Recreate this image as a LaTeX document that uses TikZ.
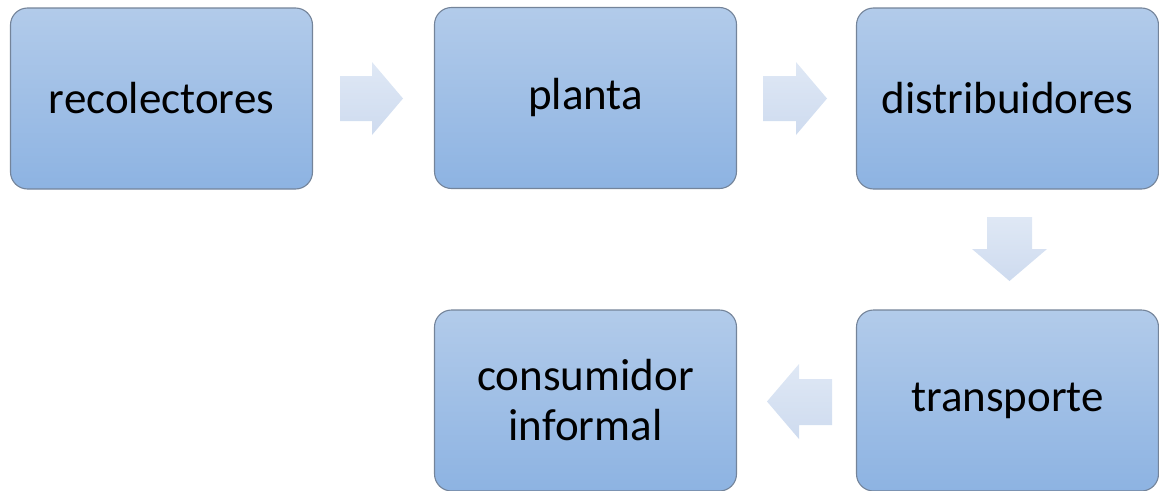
\documentclass[tikz,border=0pt]{standalone}
\usepackage{fontspec}
\setmainfont{Carlito}
\begin{document}
\begin{tikzpicture}[x=1pt,y=-1pt,
  box/.style={draw=boxline, line width=1.1pt, rounded corners=17pt,
    top color=boxtop, bottom color=boxbot, shading angle=0,
    minimum width=302pt, minimum height=181pt, inner sep=0pt,
    font=\fontsize{45}{50}\selectfont, align=center, text=black},
  blockarrow/.style={top color=arrtop, bottom color=arrbot, draw=none}]
\definecolor{boxtop}{HTML}{B2CBEA}
\definecolor{boxbot}{HTML}{8DB3E2}
\definecolor{boxline}{HTML}{74849A}
\definecolor{arrtop}{HTML}{DFE8F5}
\definecolor{arrbot}{HTML}{CEDBEF}
\useasboundingbox (0,0) rectangle (1159,490);
\node[box] (rec) at (161.5,98.5) {recolectores};
\node[box] (pla) at (585.5,98) {planta};
\node[box] (dis) at (1007.5,98.5) {distribuidores};
\node[box] (tra) at (1007.5,400.5) {transporte};
\node[box] (con) at (585.5,400.5) {consumidor\\informal};
% block arrows
\path[blockarrow] (340,76) -- (372,76) -- (372,62) -- (403,98.5) -- (372,135) -- (372,121) -- (340,121) -- cycle;
\path[blockarrow] (763,76) -- (796,76) -- (796,62) -- (827,98.5) -- (796,135) -- (796,121) -- (763,121) -- cycle;
\path[blockarrow] (987,217) -- (1032,217) -- (1032,249) -- (1047,249) -- (1009.5,281) -- (972,249) -- (987,249) -- cycle;
\path[blockarrow] (832,379) -- (799,379) -- (799,364) -- (767,401.5) -- (799,439) -- (799,425) -- (832,425) -- cycle;
\end{tikzpicture}
\end{document}
